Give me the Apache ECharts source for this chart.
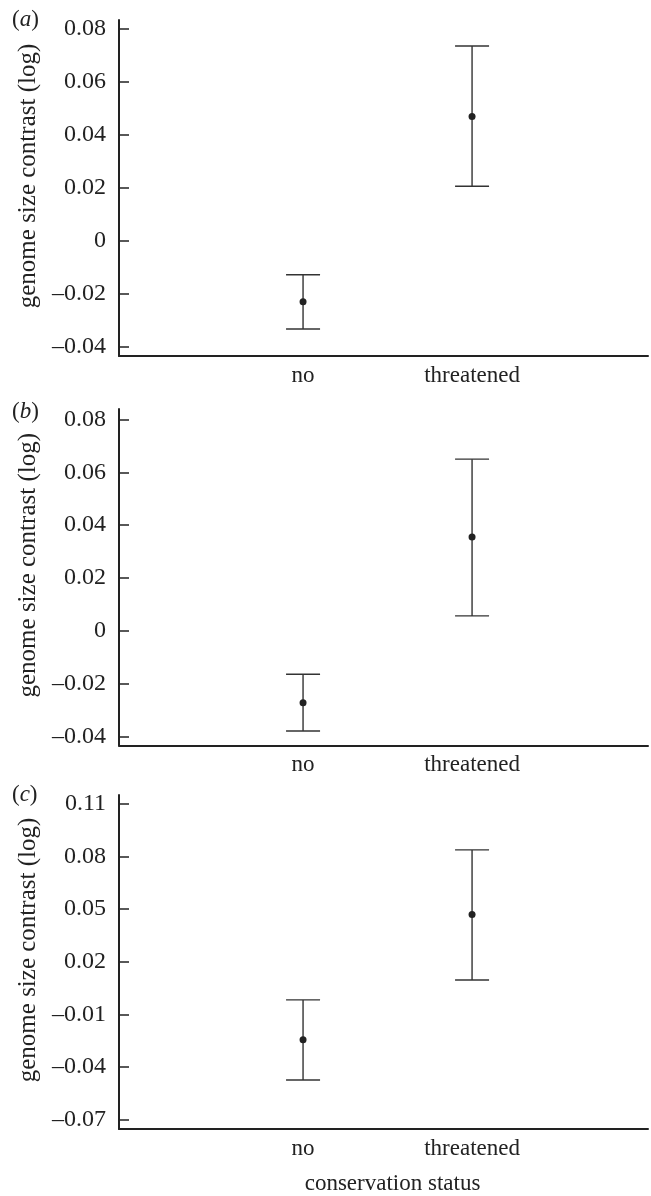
<!DOCTYPE html>
<html>
<head>
<meta charset="utf-8">
<script src="https://cdn.jsdelivr.net/npm/echarts@6/dist/echarts.min.js"></script>
<style>
  html, body { margin: 0; padding: 0; background: #fff; }
  #main { width: 651px; height: 1196px; }
</style>
</head>
<body>
<div id="main"></div>
<script>
// categories on the x axis
const categories = ['no', 'threatened']

// panel (a)
const meanA = [-0.023, 0.047]
const lowA = [-0.0333, 0.0206]
const highA = [-0.0128, 0.0736]
// panel (b)
const meanB = [-0.0273, 0.0355]
const lowB = [-0.038, 0.0056]
const highB = [-0.0165, 0.065]
// panel (c)
const meanC = [-0.0244, 0.047]
const lowC = [-0.0474, 0.0096]
const highC = [-0.0017, 0.0838]

// tick labels
const ticksAB = [-0.04, -0.02, 0, 0.02, 0.04, 0.06, 0.08]
const ticksC = [-0.07, -0.04, -0.01, 0.02, 0.05, 0.08, 0.11]

const panelNames = ['a', 'b', 'c']

let FONT = 'Liberation Serif, Times New Roman, serif'
let INK = '#222'

function fmt(v) {
  if (Math.abs(v) < 1e-9) return '0'
  if (v < 0) return '\u2013' + Math.abs(v).toFixed(2)
  return v.toFixed(2)
}

let grids = [
  { left: 119, right: 3, top: 20, height: 336 },
  { left: 119, right: 3, top: 409, height: 336.5 },
  { left: 119, right: 3, top: 795, height: 336 }
]
let ranges = [
  [-0.0435, 0.0834],
  [-0.0435, 0.084],
  [-0.0753, 0.1151]
]
let tickSets = [ticksAB, ticksAB, ticksC]
let panels = [
  [meanA, lowA, highA],
  [meanB, lowB, highB],
  [meanC, lowC, highC]
]

let xAxes = []
let yAxes = []
let series = []
let titles = []

for (let i = 0; i < 3; i++) {
  xAxes.push({
    type: 'value',
    gridIndex: i,
    min: -0.089,
    max: 3.041,
    axisLine: { show: true, onZero: false, lineStyle: { color: INK, width: 2 } },
    axisTick: { show: false },
    splitLine: { show: false },
    axisLabel: {
      customValues: [1, 2],
      formatter: v => categories[Math.round(v) - 1],
      margin: 8,
      fontFamily: FONT,
      fontSize: 23,
      color: INK
    },
    name: i === 2 ? 'conservation status' : '',
    nameLocation: 'middle',
    nameGap: 43,
    nameTextStyle: { fontFamily: FONT, fontSize: 23, color: INK, padding: [0, 0, 0, 18] }
  })
  yAxes.push({
    type: 'value',
    gridIndex: i,
    min: ranges[i][0],
    max: ranges[i][1],
    axisLine: { show: true, onZero: false, lineStyle: { color: INK, width: 2 } },
    axisTick: {
      show: true,
      inside: true,
      length: 10,
      customValues: tickSets[i],
      lineStyle: { color: INK, width: 1.5 }
    },
    splitLine: { show: false },
    axisLabel: {
      customValues: tickSets[i],
      formatter: fmt,
      margin: 13,
      fontFamily: FONT,
      fontSize: 24,
      color: INK
    },
    name: 'genome size contrast (log)',
    nameLocation: 'middle',
    nameGap: 77,
    nameTextStyle: { fontFamily: FONT, fontSize: 25, color: INK, padding: [0, 0, 0, 24] }
  })

  let p = panels[i]
  let barData = categories.map((c, k) => [k + 1, p[1][k], p[2][k]])
  let dotData = categories.map((c, k) => [k + 1, p[0][k]])

  series.push({
    type: 'custom',
    xAxisIndex: i,
    yAxisIndex: i,
    silent: true,
    renderItem: function(params, api) {
      let x = api.value(0)
      let lo = api.coord([x, api.value(1)])
      let hi = api.coord([x, api.value(2)])
      let w = 17
      let st = { stroke: '#333', lineWidth: 1.4 }
      return {
        type: 'group',
        children: [
          { type: 'line', shape: { x1: lo[0], y1: lo[1], x2: hi[0], y2: hi[1] }, style: st },
          { type: 'line', shape: { x1: lo[0] - w, y1: lo[1], x2: lo[0] + w, y2: lo[1] }, style: st },
          { type: 'line', shape: { x1: hi[0] - w, y1: hi[1], x2: hi[0] + w, y2: hi[1] }, style: st }
        ]
      }
    },
    encode: { x: 0, y: [1, 2] },
    data: barData,
    z: 2
  })
  series.push({
    type: 'scatter',
    xAxisIndex: i,
    yAxisIndex: i,
    symbolSize: 7,
    itemStyle: { color: '#222', opacity: 1 },
    data: dotData,
    z: 3
  })

  titles.push({
    text: '({i|' + panelNames[i] + '})',
    left: 12,
    top: [8, 400, 783][i],
    padding: 0,
    textStyle: {
      fontFamily: FONT,
      fontSize: 23,
      fontWeight: 'normal',
      color: INK,
      rich: {
        i: { fontFamily: FONT, fontSize: 23, fontStyle: 'italic', color: INK }
      }
    }
  })
}

let myChart = echarts.init(document.getElementById('main'), null, { renderer: 'canvas' })
myChart.setOption({
  animation: false,
  backgroundColor: '#fff',
  title: titles,
  grid: grids,
  xAxis: xAxes,
  yAxis: yAxes,
  series: series
})
</script>
</body>
</html>
